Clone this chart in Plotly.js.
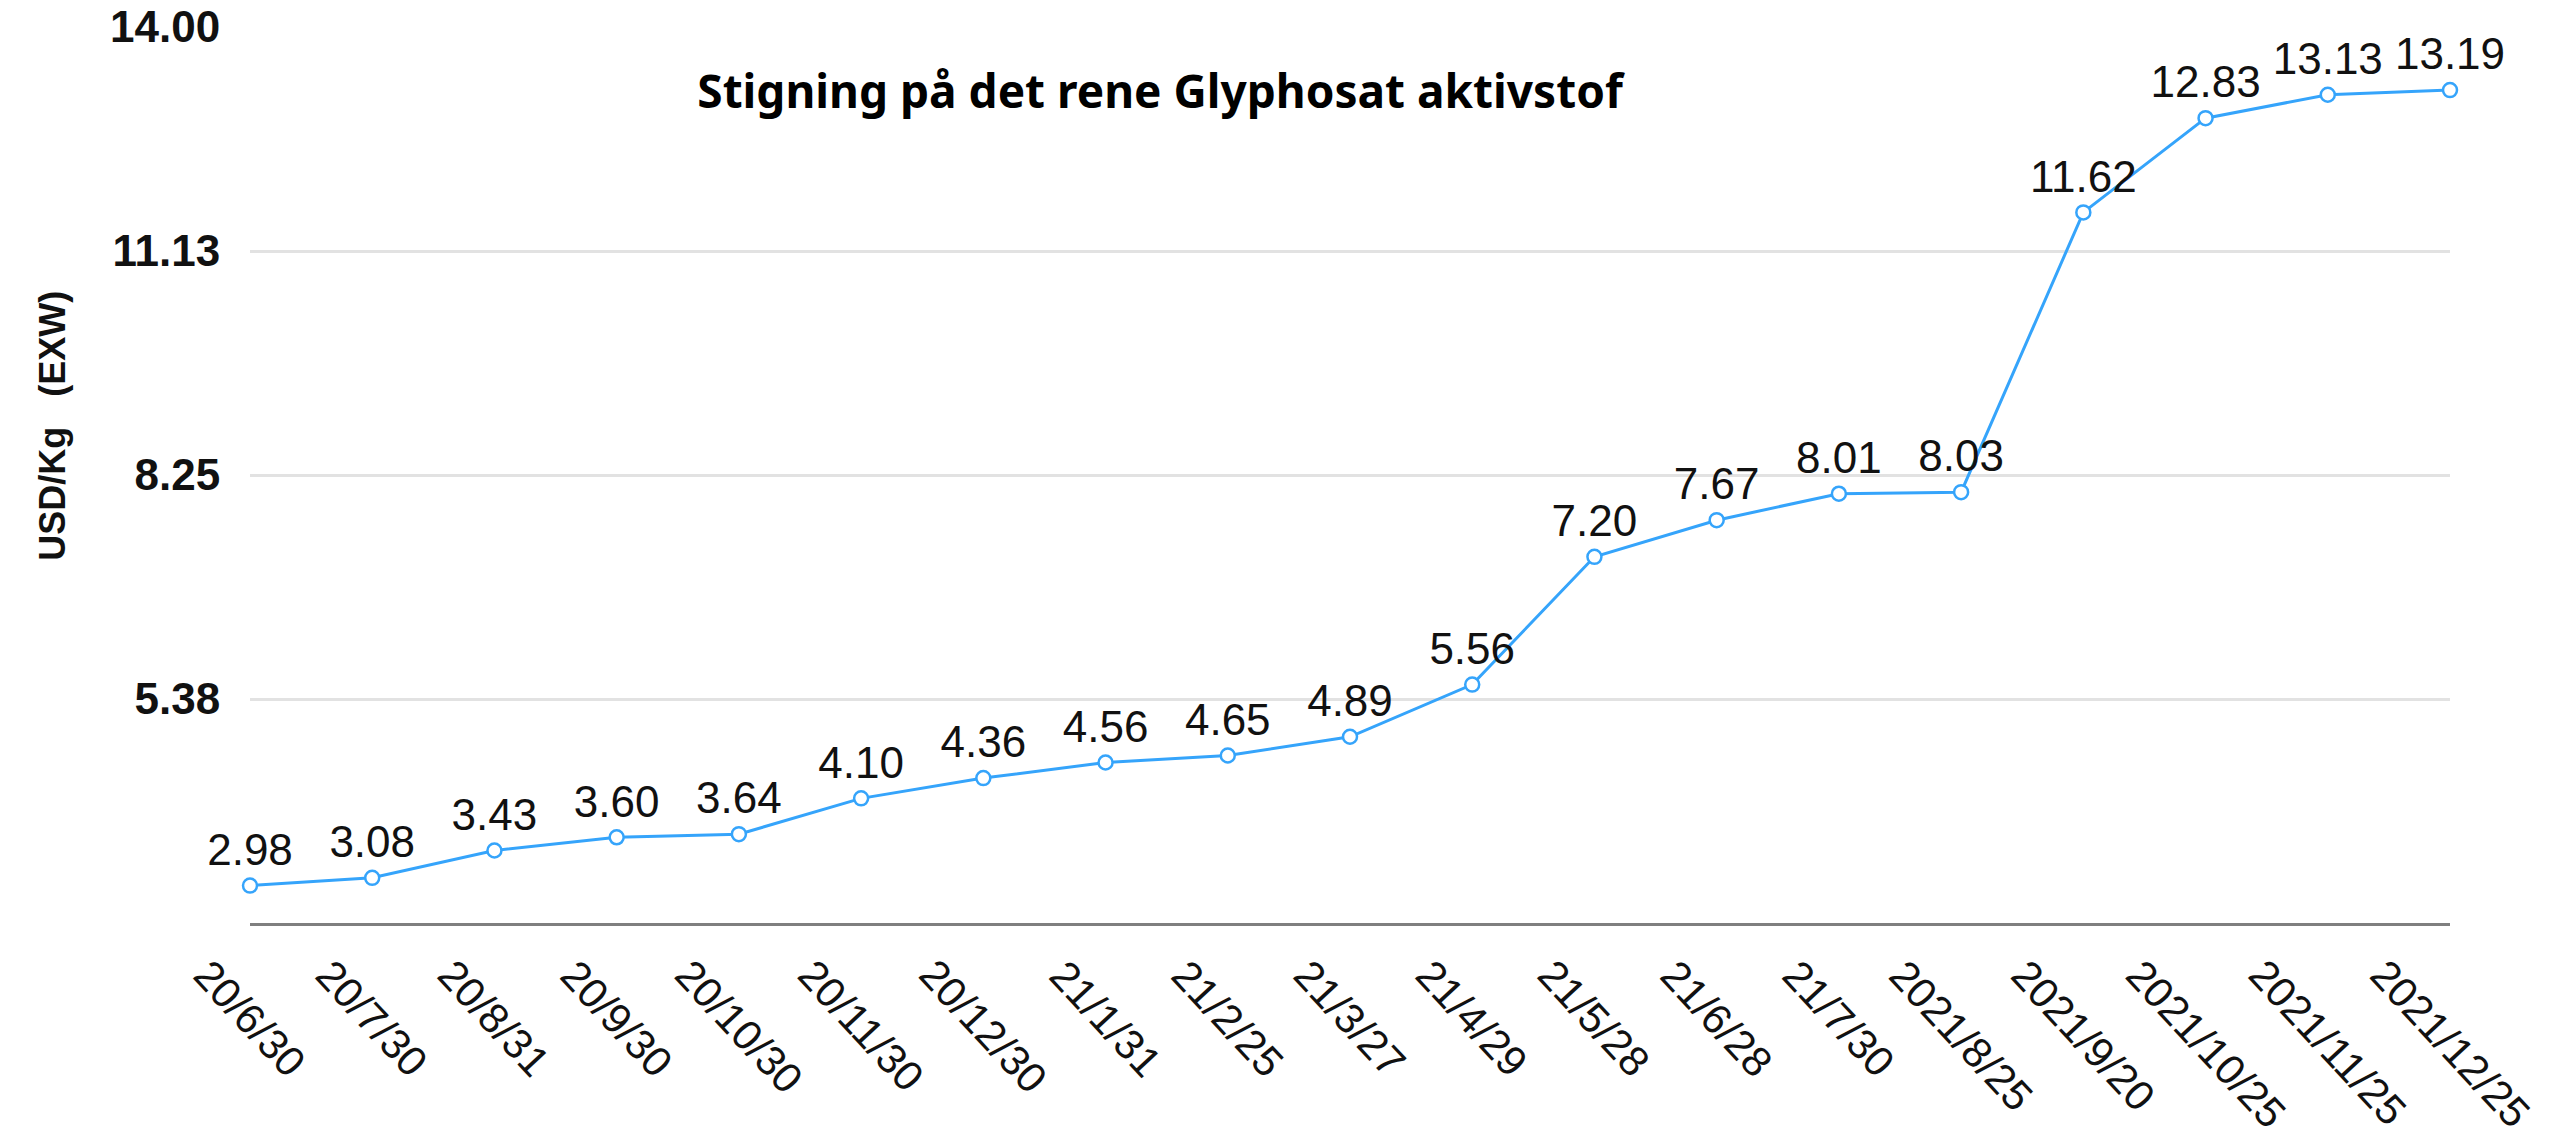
<!DOCTYPE html>
<html>
<head>
<meta charset="utf-8">
<script src="https://cdn.plot.ly/plotly-3.0.1.min.js"></script>
<style>
  html, body { margin: 0; padding: 0; background: #ffffff; }
  #chart { width: 2552px; height: 1143px; }
</style>
</head>
<body>
<div id="chart"></div>
<script>
// ---- data ----
const categories = ["20/6/30","20/7/30","20/8/31","20/9/30","20/10/30","20/11/30","20/12/30",
  "21/1/31","21/2/25","21/3/27","21/4/29","21/5/28","21/6/28","21/7/30",
  "2021/8/25","2021/9/20","2021/10/25","2021/11/25","2021/12/25"];
const prices = [2.98, 3.08, 3.43, 3.60, 3.64, 4.10, 4.36, 4.56, 4.65, 4.89, 5.56,
  7.20, 7.67, 8.01, 8.03, 11.62, 12.83, 13.13, 13.19];
const yTickValues = [5.375, 8.25, 11.125, 14.0];
const yTickLabels = ["5.38", "8.25", "11.13", "14.00"];
const chartTitle = "Stigning på det rene Glyphosat aktivstof";
const yTitle = "USD/Kg\u00a0\u00a0\u00a0(EXW)";

// ---- styles ----
const lineColor = "#35a4fb";
const baseFont = "Liberation Sans, Arial, Helvetica, sans-serif";

const trace = {
  x: categories,
  y: prices,
  type: "scatter",
  mode: "lines+markers+text",
  text: prices.map(v => v.toFixed(2)),
  textposition: "top center",
  textfont: { family: baseFont, size: 44, color: "#111111" },
  line: { color: lineColor, width: 3 },
  marker: { symbol: "circle", size: 14, color: "#ffffff", line: { color: lineColor, width: 2.5 } },
  cliponaxis: false,
  hoverinfo: "x+y"
};

const xLabelAnnotations = categories.map(c => ({
  x: c, xref: "x",
  y: -0.028, yref: "paper",
  text: c,
  showarrow: false,
  textangle: 47,
  xanchor: "center", yanchor: "top",
  font: { family: baseFont, size: 42, color: "#111111" }
}));

const yTitleAnnotation = {
  x: -0.0895, xref: "paper",
  y: 0.555, yref: "paper",
  text: "<b>" + yTitle + "</b>",
  showarrow: false,
  textangle: -90,
  xanchor: "center", yanchor: "middle",
  font: { family: baseFont, size: 36, color: "#111111" }
};

const layout = {
  width: 2552,
  height: 1143,
  paper_bgcolor: "#ffffff",
  plot_bgcolor: "#ffffff",
  showlegend: false,
  margin: { l: 250, r: 102, t: 27, b: 220, pad: 0 },
  title: {
    text: "<b>" + chartTitle + "</b>",
    x: 1160 / 2552, xanchor: "center",
    y: 1 - 92 / 1143, yanchor: "middle",
    xref: "container", yref: "container",
    font: { family: "Noto Sans, DejaVu Sans, sans-serif", size: 46, color: "#000000" }
  },
  xaxis: {
    type: "category",
    range: [0, categories.length - 1],
    showgrid: false,
    zeroline: false,
    showline: true,
    linecolor: "#7f7f7f",
    linewidth: 3,
    ticks: "",
    showticklabels: false,
    fixedrange: true
  },
  yaxis: {
    range: [2.5, 14.0],
    tickmode: "array",
    tickvals: yTickValues,
    ticktext: yTickLabels,
    tickfont: { family: baseFont, size: 44, color: "#111111", weight: "bold" },
    showgrid: true,
    gridcolor: "#e2e2e2",
    gridwidth: 3,
    zeroline: false,
    showline: false,
    ticks: "outside",
    ticklen: 20,
    tickcolor: "rgba(0,0,0,0)",
    fixedrange: true
  },
  annotations: xLabelAnnotations.concat([yTitleAnnotation])
};

Plotly.newPlot("chart", [trace], layout, { displayModeBar: false, staticPlot: true });
</script>
</body>
</html>
